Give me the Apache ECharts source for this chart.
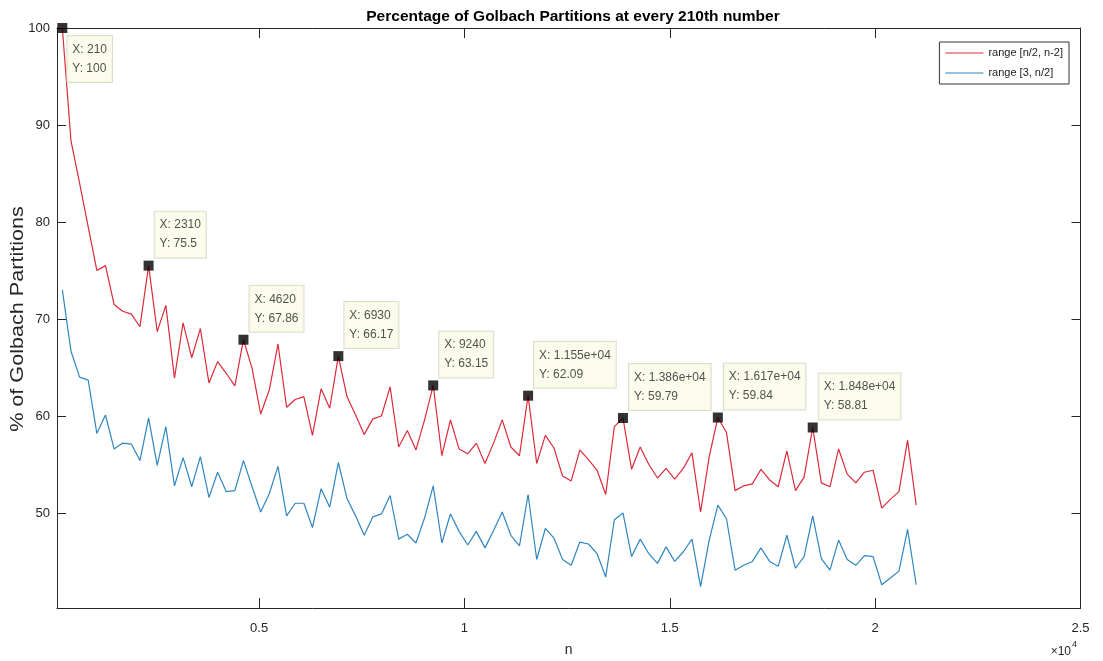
<!DOCTYPE html>
<html>
<head>
<meta charset="utf-8">
<script src="https://cdn.jsdelivr.net/npm/echarts@6/dist/echarts.min.js"></script>
<style>
html,body{margin:0;padding:0;background:#fff;}
#chart{width:1103px;height:661px;}
</style>
</head>
<body>
<div id="chart"></div>
<script>
// n values: every 210th number
const nValues = [210,420,630,840,1050,1260,1470,1680,1890,2100,
2310,2520,2730,2940,3150,3360,3570,3780,3990,4200,
4410,4620,4830,5040,5250,5460,5670,5880,6090,6300,
6510,6720,6930,7140,7350,7560,7770,7980,8190,8400,
8610,8820,9030,9240,9450,9660,9870,10080,10290,10500,
10710,10920,11130,11340,11550,11760,11970,12180,12390,12600,
12810,13020,13230,13440,13650,13860,14070,14280,14490,14700,
14910,15120,15330,15540,15750,15960,16170,16380,16590,16800,
17010,17220,17430,17640,17850,18060,18270,18480,18690,18900,
19110,19320,19530,19740,19950,20160,20370,20580,20790,21000];

// range [n/2, n-2] (red)
const upperRange = [100,88.4,84.0,79.5,75.0,75.5,71.5,70.8,70.5,69.2,
75.5,68.7,71.4,63.9,69.6,66.0,69.0,63.4,65.6,64.4,
63.1,67.86,64.9,60.2,62.7,67.4,60.9,61.7,62.0,58.0,
62.8,60.8,66.17,62.0,60.1,58.1,59.7,60.0,63.0,56.8,
58.5,56.5,59.6,63.15,55.9,59.6,56.6,56.1,57.2,55.1,
57.2,59.6,56.8,55.9,62.09,55.1,58.0,56.7,53.8,53.3,
56.5,55.5,54.4,51.9,58.9,59.79,54.5,56.8,55.0,53.6,
54.6,53.5,54.6,56.2,50.1,55.8,59.84,58.3,52.3,52.8,
53.0,54.5,53.4,52.7,56.4,52.3,53.7,58.81,53.1,52.7,
56.6,54.0,53.1,54.2,54.4,50.5,51.4,52.2,57.5,50.8];

// range [3, n/2] (blue)
const lowerRange = [73.0,66.7,64.0,63.7,58.2,60.1,56.6,57.2,57.1,55.4,
59.8,54.9,58.9,52.8,55.7,52.7,55.8,51.6,54.2,52.2,
52.3,55.4,52.7,50.1,52.0,54.8,49.7,51.0,51.0,48.5,
52.5,50.6,55.2,51.5,49.7,47.7,49.6,49.9,51.8,47.3,
47.8,46.9,49.5,52.8,46.9,49.9,48.1,46.7,48.1,46.4,
48.2,50.1,47.7,46.6,51.9,45.2,48.4,47.4,45.2,44.6,
47.0,46.8,45.8,43.4,49.3,50.0,45.5,47.3,45.8,44.8,
46.5,45.0,46.0,47.3,42.4,47.2,50.8,49.4,44.1,44.6,
45.0,46.4,45.0,44.5,47.7,44.3,45.5,49.7,45.3,44.1,
47.2,45.2,44.6,45.6,45.5,42.6,43.3,44.0,48.3,42.6];

// data tips: indices into the red series
const tipIndices = [0,10,21,32,43,54,65,76,87];

const xTicks = [5000,10000,15000,20000,25000];
const yTicks = [50,60,70,80,90,100];

const seriesNames = ['range [n/2, n-2]','range [3, n/2]'];
const titleText = 'Percentage of Golbach Partitions at every 210th number';
const yName = '% of Golbach Partitions';
const xName = 'n';

const X_MIN = 80, X_MAX = 25000, Y_MIN = 40.2, Y_MAX = 100;
const AX = '#262626';
const FONT = 'Arial, "Liberation Sans", Helvetica, sans-serif';

function fmtX(v){
  if (v >= 10000) return v.toExponential(3).replace(/e\+(\d)$/, 'e+0$1');
  return String(v);
}

const redData = nValues.map((n,i)=>[n, upperRange[i]]);
const blueData = nValues.map((n,i)=>[n, lowerRange[i]]);
const tipData = tipIndices.map((idx,j)=>{
  const item = {value:[nValues[idx], upperRange[idx]]};
  if (j === 0) item.label = {position:[10,13], verticalAlign:'top'};
  return item;
});

const chart = echarts.init(document.getElementById('chart'), null, {renderer:'canvas'});

const axisCommonX = {
  type:'value', min:X_MIN, max:X_MAX,
  axisLine:{show:true, onZero:false, lineStyle:{color:AX, width:1}},
  splitLine:{show:false},
  axisTick:{show:true, inside:true, length:10, customValues:xTicks, lineStyle:{color:AX}},
};
const axisCommonY = {
  type:'value', min:Y_MIN, max:Y_MAX,
  axisLine:{show:true, onZero:false, lineStyle:{color:AX, width:1}},
  splitLine:{show:false},
  axisTick:{show:true, inside:true, length:9, customValues:yTicks, lineStyle:{color:AX}},
};

chart.setOption({
  animation:false,
  backgroundColor:'#ffffff',
  title:{
    text:titleText, left:568, top:4, textAlign:'center',
    textStyle:{fontFamily:FONT, fontSize:15.5, fontWeight:'bold', color:'#000'}
  },
  grid:{left:57, right:22.5, top:28, bottom:53, containLabel:false, outerBoundsMode:'none'},
  legend:{
    orient:'vertical', right:34, top:42,
    data:seriesNames,
    icon:'rect',
    itemWidth:38, itemHeight:1.2, itemGap:8,
    padding:[5,6,5,6],
    borderColor:'#333', borderWidth:1, backgroundColor:'#fff',
    textStyle:{fontFamily:FONT, fontSize:11, color:'#222', lineHeight:12}
  },
  xAxis:[
    Object.assign({}, axisCommonX, {
      position:'bottom',
      name:xName, nameLocation:'middle', nameGap:35, nameMoveOverlap:false,
      nameTextStyle:{fontFamily:FONT, fontSize:14, color:AX},
      axisLabel:{show:true, customValues:xTicks, margin:14,
        formatter:v=>String(v/10000),
        fontFamily:FONT, fontSize:13, color:AX}
    }),
    Object.assign({}, axisCommonX, {position:'top', axisLabel:{show:false}})
  ],
  yAxis:[
    Object.assign({}, axisCommonY, {
      position:'left',
      axisLabel:{show:true, customValues:yTicks, margin:7,
        fontFamily:FONT, fontSize:13, color:AX}
    }),
    Object.assign({}, axisCommonY, {position:'right', axisLabel:{show:false}})
  ],
  graphic:[
    {type:'text', x:18, y:319, rotation:Math.PI/2, scaleX:1.2, scaleY:1,
      style:{text:yName, textAlign:'center', textVerticalAlign:'middle', font:'18px Arial, "Liberation Sans", sans-serif', fill:AX}},
    {type:'text', x:1071, y:652, style:{text:'\u00d710', textAlign:'right', textVerticalAlign:'middle', font:'12px Arial, "Liberation Sans", sans-serif', fill:AX}},
    {type:'text', x:1072, y:645, style:{text:'4', textAlign:'left', textVerticalAlign:'middle', font:'9px Arial, "Liberation Sans", sans-serif', fill:AX}}
  ],
  series:[
    {name:seriesNames[0], type:'line', data:redData, symbol:'none',
      lineStyle:{color:'#dc2a3a', width:1.2}, itemStyle:{color:'#dc2a3a'}, z:3},
    {name:seriesNames[1], type:'line', data:blueData, symbol:'none',
      lineStyle:{color:'#2f86c0', width:1.2}, itemStyle:{color:'#2f86c0'}, z:2},
    {name:'tips', type:'scatter', data:tipData, symbol:'rect', symbolSize:10,
      clip:false, z:10,
      itemStyle:{color:'#000'},
      label:{show:true, position:[11,-3], align:'left', verticalAlign:'bottom',
        formatter:p=>'X: '+fmtX(p.value[0])+'\nY: '+p.value[1],
        backgroundColor:'#fbfbe8', borderColor:'#d6d6c4', borderWidth:1,
        padding:[4,5,4,5], lineHeight:19, fontFamily:FONT, fontSize:12, color:'#262626'}
    }
  ]
});
</script>
</body>
</html>
